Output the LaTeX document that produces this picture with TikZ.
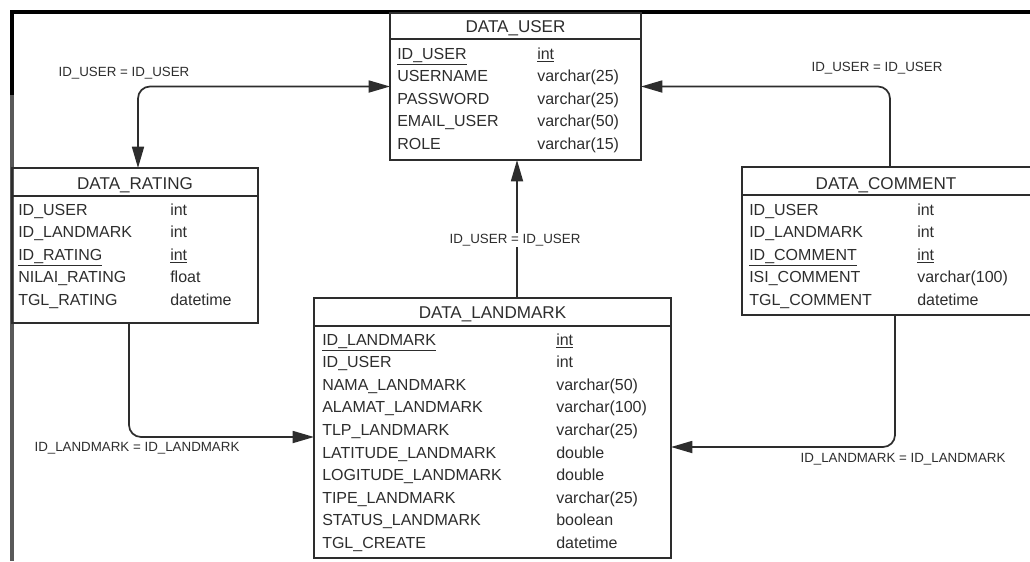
\documentclass[tikz,border=0pt]{standalone}
\usepackage{fontspec}
\setmainfont{Liberation Sans}
\usepackage{tikz}
\usetikzlibrary{arrows.meta, calc}

\definecolor{ink}{RGB}{45,45,45}
\tikzset{
	tbl/.style={draw=ink, line width=1.3pt, rectangle, inner sep=0pt, outer sep=0pt},
	ttl/.style={text=ink, inner sep=0pt, anchor=base, font=\fontsize{12.8pt}{16.95pt}\selectfont},
	fld/.style={text=ink, inner sep=0pt, anchor=base west, align=left, font=\fontsize{12pt}{16.95pt}\selectfont},
	sep/.style={draw=ink, line width=1.3pt},
	link/.style={draw=ink, line width=1.3pt, rounded corners=9pt, >={Triangle[length=16pt,width=9pt]}},
	rel/.style={text=ink, inner sep=1pt, font=\fontsize{10pt}{12pt}\selectfont}
}

\begin{document}
\begin{tikzpicture}[x=0.75pt, y=-0.75pt]
		\useasboundingbox (0,0) rectangle (1030,561);

		% Frame
		\draw[line width=3.5pt] (10,12) -- (1030,12);
		\draw[line width=3.5pt] (12,10) -- (12,95);
		\draw[line width=3.5pt, gray!70!black] (12,95) -- (12,561);

		% DATA_USER (fields anchored at the last line)
		\node[tbl, minimum width=188.25pt, minimum height=110.25pt] (user) at (515.5,86.5) {};
		\draw[sep] ($(user.north west)+(0,26)$) -- ($(user.north east)+(0,26)$);
		\node[ttl] (user-t) at ($(user.north)+(0,19)$) {DATA\_USER};
		\node[fld] (user-f) at ($(user.north west)+(7,136.4)$) {\underline{ID\_USER}\\USERNAME\\PASSWORD\\EMAIL\_USER\\ROLE};
		\node[fld] (user-d) at ($(user.north west)+(147,136.4)$) {\underline{int}\\varchar(25)\\varchar(25)\\varchar(50)\\varchar(15)};

		% DATA_RATING
		\node[tbl, minimum width=184.5pt, minimum height=116.25pt] (rating) at (135,245.5) {};
		\draw[sep] ($(rating.north west)+(0,28)$) -- ($(rating.north east)+(0,28)$);
		\node[ttl] (rating-t) at ($(rating.north)+(0,21)$) {DATA\_RATING};
		\node[fld] (rating-f) at ($(rating.north west)+(6,137.4)$) {ID\_USER\\ID\_LANDMARK\\\underline{ID\_RATING}\\NILAI\_RATING\\TGL\_RATING};
		\node[fld] (rating-d) at ($(rating.north west)+(158,137.4)$) {int\\int\\\underline{int}\\float\\datetime};

		% DATA_COMMENT
		\node[tbl, minimum width=216.75pt, minimum height=111pt] (comment) at (886.5,241) {};
		\draw[sep] ($(comment.north west)+(0,28)$) -- ($(comment.north east)+(0,28)$);
		\node[ttl] (comment-t) at ($(comment.north west)+(144,22)$) {DATA\_COMMENT};
		\node[fld] (comment-f) at ($(comment.north west)+(7,138.4)$) {ID\_USER\\ID\_LANDMARK\\\underline{ID\_COMMENT}\\ISI\_COMMENT\\TGL\_COMMENT};
		\node[fld] (comment-d) at ($(comment.north west)+(175,138.4)$) {int\\int\\\underline{int}\\varchar(100)\\datetime};

		% DATA_LANDMARK
		\node[tbl, minimum width=267.75pt, minimum height=195pt] (landmark) at (492.5,428) {};
		\draw[sep] ($(landmark.north west)+(0,28)$) -- ($(landmark.north east)+(0,28)$);
		\node[ttl] (landmark-t) at ($(landmark.north)+(0,20)$) {DATA\_LANDMARK};
		\node[fld] (landmark-f) at ($(landmark.north west)+(8,250.4)$) {\underline{ID\_LANDMARK}\\ID\_USER\\NAMA\_LANDMARK\\ALAMAT\_LANDMARK\\TLP\_LANDMARK\\LATITUDE\_LANDMARK\\LOGITUDE\_LANDMARK\\TIPE\_LANDMARK\\STATUS\_LANDMARK\\TGL\_CREATE};
		\node[fld] (landmark-d) at ($(landmark.north west)+(242,250.4)$) {\underline{int}\\int\\varchar(50)\\varchar(100)\\varchar(25)\\double\\double\\varchar(25)\\boolean\\datetime};

		% Relations
		\draw[link, <->] ($(rating.north west)+(126,0)$) |- (user.west);
		\draw[link, ->] ($(comment.north west)+(148,0)$) |- (user.east);
		\draw[link, ->] ($(landmark.north -| user.south)+(1.5,0)$) -- ($(user.south)+(1.5,0)$);
		\draw[link, ->] ($(rating.south west)+(117,0)$) |- ($(landmark.north west)+(0,139)$);
		\draw[link, ->] ($(comment.south west)+(153,0)$) |- ($(landmark.north east)+(0,149)$);

		% Relation labels
		\node[rel] (r-rating) at (124,73) {ID\_USER = ID\_USER};
		\node[rel] (r-comment) at (877,68) {ID\_USER = ID\_USER};
		\node[rel, fill=white] (r-landmark) at (515,240) {ID\_USER = ID\_USER};
		\node[rel] (r-rl) at (137,448) {ID\_LANDMARK = ID\_LANDMARK};
		\node[rel] (r-cl) at (903,459) {ID\_LANDMARK = ID\_LANDMARK};
	\end{tikzpicture}
\end{document}
